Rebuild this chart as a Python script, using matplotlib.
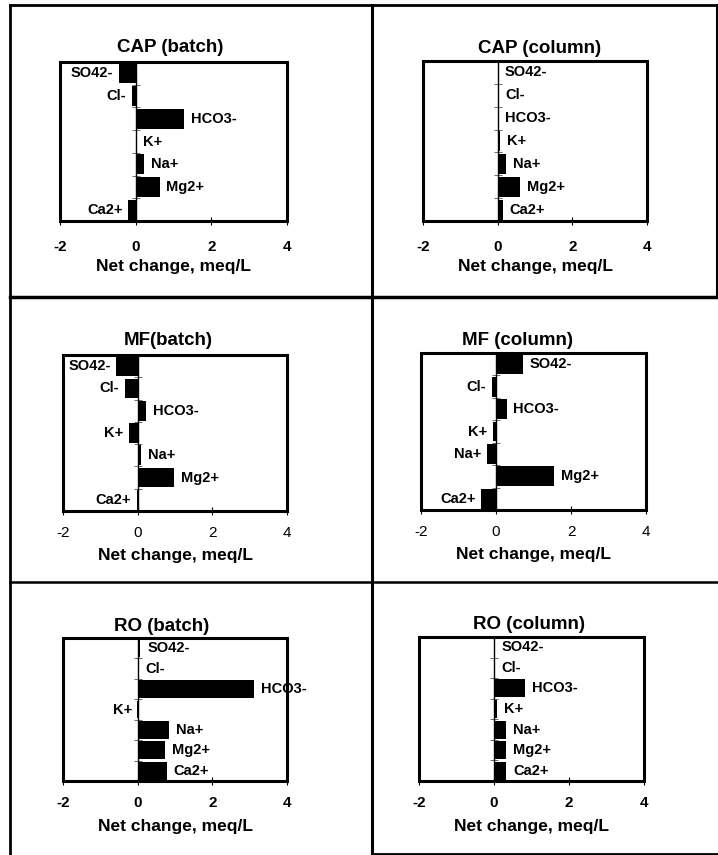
import matplotlib
matplotlib.use("Agg")
import matplotlib.pyplot as plt
from matplotlib.lines import Line2D
from matplotlib.patches import Rectangle

plt.rcParams['font.family'] = ['Liberation Sans', 'DejaVu Sans']

# ions, top to bottom
ions = ['SO42-', 'Cl-', 'HCO3-', 'K+', 'Na+', 'Mg2+', 'Ca2+']

titles = ['CAP (batch)', 'CAP (column)', 'MF(batch)', 'MF (column)', 'RO (batch)', 'RO (column)']

# net change, meq/L
cap_batch = [-0.44, -0.10, 1.27, 0.01, 0.22, 0.63, -0.20]
cap_column = [0.01, 0.01, 0.01, 0.07, 0.22, 0.60, 0.13]
mf_batch = [-0.57, -0.35, 0.22, -0.24, 0.10, 0.97, -0.03]
mf_column = [0.71, -0.11, 0.28, -0.08, -0.23, 1.54, -0.40]
ro_batch = [0.07, 0.03, 3.12, -0.005, 0.84, 0.73, 0.78]
ro_column = [0.01, 0.01, 0.82, 0.08, 0.33, 0.33, 0.33]

series = [cap_batch, cap_column, mf_batch, mf_column, ro_batch, ro_column]
xticks = [-2, 0, 2, 4]

W, H = 718, 855
fig = plt.figure(figsize=(W / 100, H / 100), dpi=100)

def px(x0, y0, x1, y1):
    return [x0 / W, 1 - y1 / H, (x1 - x0) / W, (y1 - y0) / H]

# axes boxes in pixels (left, top, right, bottom)
boxes = [(60, 62, 287, 221), (423, 61, 647, 221),
         (63, 355, 287, 511), (421, 353, 646, 510),
         (63, 638, 287, 781), (419, 637, 644, 781)]
title_x = [0.485, 0.52, 0.47, 0.43, 0.44, 0.49]
title_pad = [7, 6, 7, 6, 5, 6]
tick_pad = [11, 11, 7.5, 7.5, 8, 8]
label_pad = [3, 3, 6, 6, 6.5, 6.5]
bold_ticks = [True, True, False, False, True, True]

for i, vals in enumerate(series):
    ax = fig.add_axes(px(*boxes[i]))
    y = list(range(len(ions)))
    ax.barh(y, vals, height=0.88, color='black', zorder=3)
    ax.set_ylim(len(ions) - 0.5, -0.5)
    ax.set_xlim(-2, 4)
    ax.set_xticks(xticks)
    ax.set_xticklabels([str(t) for t in xticks],
                       fontweight='bold' if bold_ticks[i] else 'normal', fontsize=11)
    ax.tick_params(axis='x', direction='inout', length=6, width=0.8, pad=tick_pad[i])

    # y axis drawn through zero with ticks between categories
    for s in ['top', 'right', 'bottom']:
        ax.spines[s].set_visible(False)
    ax.spines['left'].set_position(('data', 0))
    ax.spines['left'].set_linewidth(1.0)
    ax.spines['left'].set_zorder(4)
    ax.set_yticks([])
    ax.set_yticks([k + 0.5 for k in range(len(ions) - 1)], minor=True)
    ax.tick_params(axis='y', which='minor', direction='inout', length=6, width=0.6,
                   color='#555555')
    ax.add_patch(Rectangle((0, 0), 1, 1, transform=ax.transAxes, fill=False,
                           lw=2.2, ec='black', clip_on=False, zorder=5))

    for k, v in enumerate(vals):
        if v >= 0:
            ax.annotate(ions[k], (v, k), xytext=(5, 0), textcoords='offset points',
                        ha='left', va='center', fontsize=10.5, fontweight='bold')
        else:
            ax.annotate(ions[k], (v, k), xytext=(-4, 0), textcoords='offset points',
                        ha='right', va='center', fontsize=10.5, fontweight='bold')

    ax.set_title(titles[i], x=title_x[i], pad=title_pad[i], fontsize=13.5, fontweight='bold')
    ax.set_xlabel('Net change, meq/L', fontsize=12.5, fontweight='bold', labelpad=label_pad[i])

# panel frame lines (pixels)
frame = [((10, 5), (717, 5), 2.0),
         ((10, 5), (10, 855), 2.0),
         ((372, 5), (372, 855), 2.2),
         ((717, 5), (717, 297), 1.5),
         ((10, 297), (718, 297), 2.5),
         ((10, 582), (718, 582), 1.8),
         ((372, 854), (718, 854), 2.0)]
for (x0, y0), (x1, y1), lw in frame:
    fig.add_artist(Line2D([x0 / W, x1 / W], [1 - y0 / H, 1 - y1 / H], color='black', lw=lw))

fig.savefig('out.png', dpi=100)
